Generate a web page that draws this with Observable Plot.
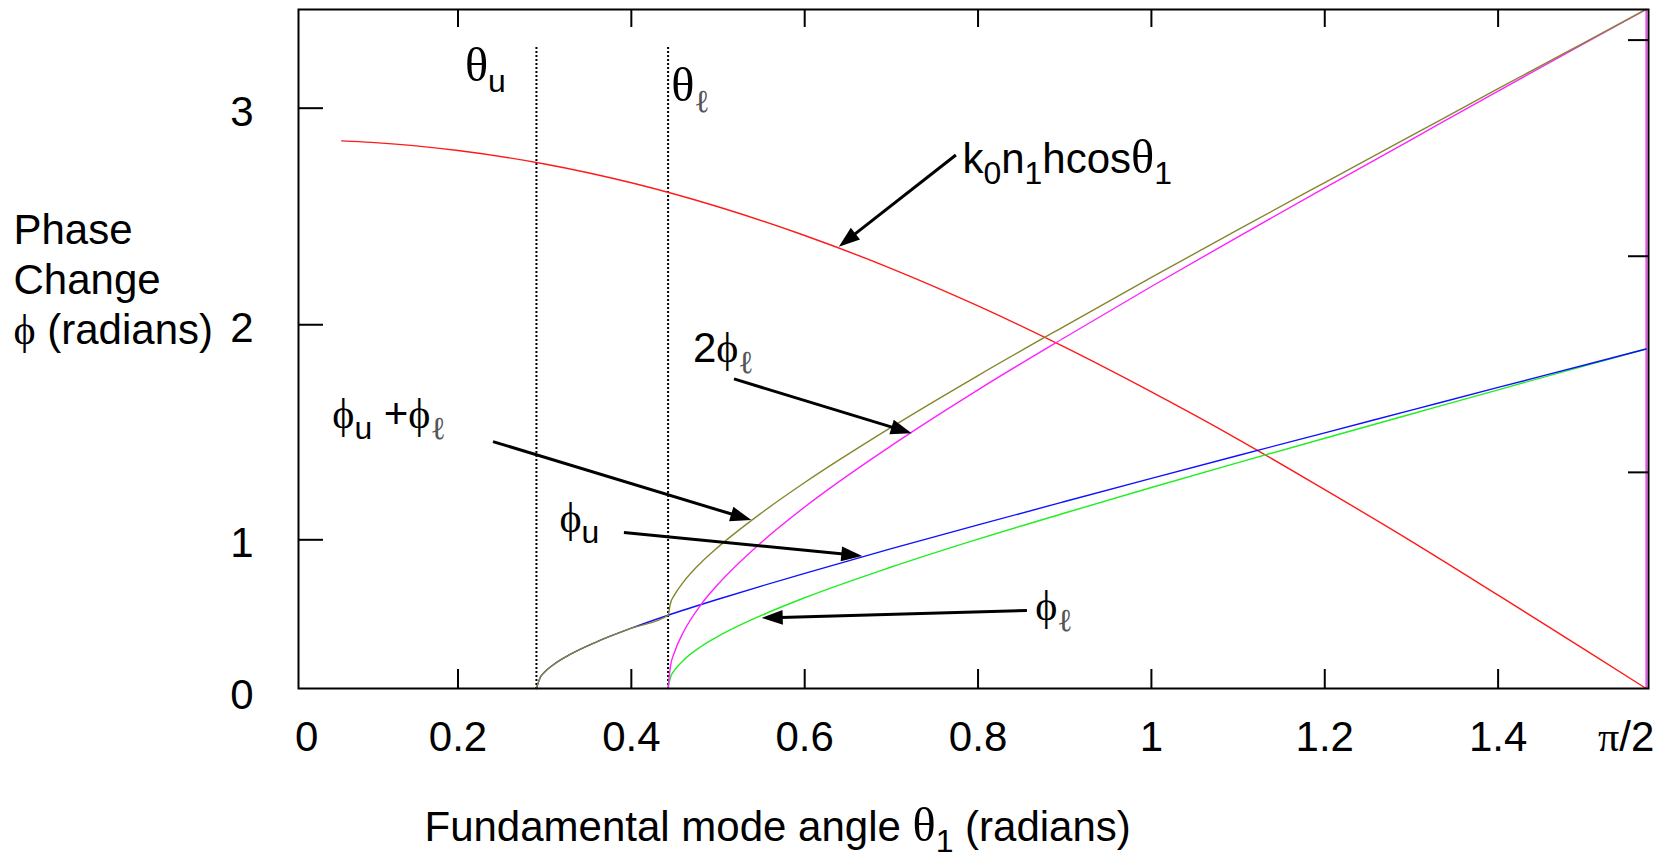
<!DOCTYPE html>
<html>
<head>
<meta charset="utf-8">
<script src="https://cdn.jsdelivr.net/npm/d3@7"></script>
<script src="https://cdn.jsdelivr.net/npm/@observablehq/plot@0.6"></script>
<style>
  html, body { margin: 0; padding: 0; background: #fff; overflow: hidden; }
  #chart svg { display: block; }
</style>
</head>
<body>
<div id="chart"></div>
<script>
// ---- Critical angles (radians) ----
const criticalAngles = [0.2905, 0.4424];          // θu, θℓ
const criticalLabels = ["θ_u", "θ_ℓ"];
const criticalLabelX = [0.208, 0.446];
const criticalLabelY = [2.813, 2.716];

// ---- k0 n1 h cosθ1 ----
const cosTheta = [0.066, 0.1, 0.2, 0.3, 0.4, 0.5, 0.6, 0.7, 0.8, 0.9, 1.0, 1.1, 1.2, 1.3, 1.4, 1.5, 1.5708];
const cosPhase = [2.534, 2.527, 2.489, 2.427, 2.340, 2.229, 2.096, 1.943, 1.770, 1.579, 1.372, 1.153, 0.920, 0.681, 0.432, 0.180, 0.000];

// ---- ϕℓ (lower interface) ----
const phiLTheta = [0.4424, 0.445, 0.45, 0.46, 0.48, 0.50, 0.55, 0.60, 0.70, 0.80, 0.90, 1.0, 1.1, 1.2, 1.3, 1.4, 1.5, 1.5708];
const phiLPhase = [0, 0.050, 0.085, 0.130, 0.193, 0.241, 0.338, 0.420, 0.562, 0.691, 0.812, 0.930, 1.045, 1.158, 1.270, 1.382, 1.493, 1.571];

// ---- ϕu (upper interface) ----
const phiUTheta = [0.2905, 0.295, 0.30, 0.31, 0.33, 0.36, 0.40, 0.4424, 0.50, 0.55, 0.60, 0.70, 0.80, 0.90, 1.0, 1.1, 1.2, 1.3, 1.4, 1.5, 1.5708];
const phiUPhase = [0, 0.052, 0.076, 0.110, 0.159, 0.216, 0.279, 0.339, 0.413, 0.474, 0.533, 0.647, 0.757, 0.865, 0.972, 1.078, 1.183, 1.288, 1.393, 1.497, 1.571];

// ---- 2ϕℓ ----
const twoPhiLTheta = [0.4424, 0.445, 0.45, 0.46, 0.48, 0.50, 0.55, 0.60, 0.70, 0.80, 0.90, 1.0, 1.1, 1.2, 1.3, 1.4, 1.5, 1.5708];
const twoPhiLPhase = [0, 0.100, 0.170, 0.260, 0.386, 0.482, 0.676, 0.840, 1.124, 1.382, 1.624, 1.860, 2.090, 2.316, 2.540, 2.764, 2.986, 3.142];

// ---- ϕu + ϕℓ ----
const sumTheta = [0.2905, 0.295, 0.30, 0.31, 0.33, 0.36, 0.40, 0.4424, 0.445, 0.45, 0.46, 0.48, 0.50, 0.55, 0.60, 0.70, 0.80, 0.90, 1.0, 1.1, 1.2, 1.3, 1.4, 1.5, 1.5708];
const sumPhase = [0, 0.052, 0.076, 0.110, 0.159, 0.216, 0.279, 0.339, 0.392, 0.434, 0.492, 0.581, 0.654, 0.812, 0.953, 1.209, 1.448, 1.677, 1.902, 2.123, 2.341, 2.558, 2.775, 2.990, 3.142];

const seriesNames  = ["k0n1hcosθ1", "ϕℓ", "ϕu", "2ϕℓ", "ϕu+ϕℓ"];
const seriesColors = ["#ff1a1a", "#22ee22", "#1010ff", "#ff22ff", "#86862e"];
const seriesTheta  = [cosTheta, phiLTheta, phiUTheta, twoPhiLTheta, sumTheta];
const seriesPhase  = [cosPhase, phiLPhase, phiUPhase, twoPhiLPhase, sumPhase];

// ---- Axes ----
const xTickValues = [0.2, 0.4, 0.6, 0.8, 1.0, 1.2, 1.4];
const xTickLabels = ["0.2", "0.4", "0.6", "0.8", "1", "1.2", "1.4"];
const rightTickValues = [1, 2, 3];
// left-hand ticks sit a little above the right-hand ones
const leftTickValues = [0.688, 1.683, 2.685];
const leftTickLabels = ["1", "2", "3"];
const xTitle = "Fundamental mode angle θ_1 (radians)";
const yTitle = "Phase\nChange\nϕ (radians)";

// ---- Annotations (label anchor = left end of baseline) ----
const annotationLabels = ["k_0n_1hcosθ_1", "2ϕ_ℓ", "ϕ_u +ϕ_ℓ", "ϕ_u", "ϕ_ℓ"];
const annotationX = [0.782, 0.471, 0.055, 0.317, 0.866];
const annotationY = [2.383, 1.510, 1.203, 0.722, 0.319];
const arrowFromX = [0.775, 0.519, 0.241, 0.392, 0.857];
const arrowFromY = [2.466, 1.430, 1.140, 0.720, 0.359];
const arrowToX   = [0.640, 0.724, 0.539, 0.667, 0.551];
const arrowToY   = [2.042, 1.179, 0.777, 0.611, 0.324];

// ---- Layout ----
const W = 1664, H = 861;
const margin = {left: 298, right: 16, top: 9, bottom: 173};
const plotW = W - margin.left - margin.right;
const plotH = H - margin.top - margin.bottom;
const SANS = "'Liberation Sans', Arial, Helvetica, sans-serif";
const SERIF = "'Liberation Serif', 'DejaVu Serif', 'Times New Roman', serif";
const FS = 42;

const rows = seriesNames.flatMap((name, s) =>
  seriesTheta[s].map((t, i) => ({name, theta: t, phase: seriesPhase[s][i]})));
// the 2ϕℓ trace falls straight back to zero at its last angle
const twoPhiLEnd = [{theta: twoPhiLTheta[twoPhiLTheta.length - 1], phase: twoPhiLPhase[twoPhiLPhase.length - 1]}];
const annotations = annotationLabels.map((label, i) => ({label, x: annotationX[i], y: annotationY[i]}));
const critical = criticalLabels.map((label, i) => ({label, x: criticalLabelX[i], y: criticalLabelY[i]}));
const arrows = arrowFromX.map((x1, i) => ({x1, y1: arrowFromY[i], x2: arrowToX[i], y2: arrowToY[i]}));
const xTicks = xTickValues.map((v, i) => ({v, label: xTickLabels[i]}));
const leftTicks = leftTickValues.map((v, i) => ({v, label: leftTickLabels[i]}));

// Filled-head arrows positioned through the plot scales
function arrowMark(data, {length = 21, halfWidth = 7.5, strokeWidth = 3} = {}) {
  return (index, scales) => {
    const g = d3.create("svg:g").attr("aria-label", "arrow");
    for (const a of data) {
      const x1 = scales.x(a.x1), y1 = scales.y(a.y1);
      const x2 = scales.x(a.x2), y2 = scales.y(a.y2);
      const ang = Math.atan2(y2 - y1, x2 - x1);
      const c = Math.cos(ang), s = Math.sin(ang);
      const bx = x2 - length * c, by = y2 - length * s;
      g.append("line")
        .attr("x1", x1).attr("y1", y1).attr("x2", bx + 2 * c).attr("y2", by + 2 * s)
        .attr("stroke", "black").attr("stroke-width", strokeWidth);
      g.append("path")
        .attr("d", `M${x2},${y2}L${bx - halfWidth * s},${by + halfWidth * c}L${bx + halfWidth * s},${by - halfWidth * c}Z`)
        .attr("fill", "black");
    }
    return g.node();
  };
}

const textStyle = {fontFamily: SANS, fontSize: FS, fill: "black"};

const chart = Plot.plot({
  width: W,
  height: H,
  marginLeft: margin.left,
  marginRight: margin.right,
  marginTop: margin.top,
  marginBottom: margin.bottom,
  x: {domain: [0.016, 1.5735], axis: null},
  y: {domain: [0, Math.PI], axis: null},
  color: {domain: seriesNames, range: seriesColors},
  marks: [
    // dotted cut-off lines
    Plot.ruleX(criticalAngles, {x: d => d, stroke: "black", strokeWidth: 2, strokeDasharray: "2,2", insetTop: 38}),
    // curves
    Plot.ruleX(twoPhiLEnd, {x: "theta", y1: 0, y2: "phase", stroke: seriesColors[3], strokeWidth: 1.4}),
    Plot.line(rows, {x: "theta", y: "phase", z: "name", stroke: "name", strokeWidth: 1.4, curve: "monotone-x"}),
    // box and inward ticks
    Plot.frame({stroke: "black", strokeWidth: 2}),
    Plot.tickX(xTickValues, {x: d => d, insetTop: plotH - 19, stroke: "black", strokeWidth: 2}),
    Plot.tickX(xTickValues, {x: d => d, insetBottom: plotH - 18, stroke: "black", strokeWidth: 2}),
    Plot.tickY(leftTickValues, {y: d => d, insetRight: plotW - 25, stroke: "black", strokeWidth: 2}),
    Plot.tickY(rightTickValues, {y: d => d, insetLeft: plotW - 20, stroke: "black", strokeWidth: 2}),
    // tick labels
    Plot.text(xTicks, {x: "v", text: "label", frameAnchor: "bottom", lineAnchor: "bottom", dy: 62, ...textStyle}),
    Plot.text(["0"], {x: 0, text: d => d, frameAnchor: "bottom", lineAnchor: "bottom", dy: 62, dx: 22, ...textStyle}),
    Plot.text(["π/2"], {x: Math.PI / 2, text: d => d, frameAnchor: "bottom", lineAnchor: "bottom", dy: 62, dx: -20, ...textStyle}),
    Plot.text(leftTicks, {y: "v", text: "label", frameAnchor: "left", textAnchor: "end", lineAnchor: "middle", dx: -45, dy: 4, ...textStyle}),
    Plot.text(["0"], {y: 0, text: d => d, frameAnchor: "left", textAnchor: "end", lineAnchor: "middle", dx: -45, dy: 7, ...textStyle}),
    // axis titles
    Plot.text([xTitle], {text: d => d, frameAnchor: "bottom-left", textAnchor: "start", lineAnchor: "bottom", dx: 126, dy: 152, ...textStyle}),
    Plot.text([yTitle], {text: d => d, frameAnchor: "top-left", textAnchor: "start", lineAnchor: "bottom", lineHeight: 1.18, dx: -285, dy: 334, ...textStyle}),
    // annotations
    Plot.text(critical, {x: "x", y: "y", text: "label", textAnchor: "start", lineAnchor: "bottom", ...textStyle}),
    Plot.text(annotations, {x: "x", y: "y", text: "label", textAnchor: "start", lineAnchor: "bottom", ...textStyle}),
    arrowMark(arrows)
  ]
});

// Rich text: Greek letters in a serif face, "_x" as a subscript
const SVGNS = "http://www.w3.org/2000/svg";
const greekRe = /[θϕπℓ]/;
const SUB_SHIFT = 11;
function richText(el) {
  const nodes = el.querySelector("tspan") ? [...el.querySelectorAll("tspan")] : [el];
  for (const node of nodes) {
    const s = node.textContent;
    if (!/[θϕπℓ_]/.test(s)) continue;
    const runs = [];
    for (let i = 0; i < s.length; i++) {
      let sub = false;
      if (s[i] === "_" && i + 1 < s.length) { sub = true; i++; }
      const ch = s[i];
      const serif = greekRe.test(ch);
      const last = runs[runs.length - 1];
      if (last && !sub && !last.sub && last.serif === serif) last.text += ch;
      else runs.push({text: ch, sub, serif});
    }
    node.textContent = "";
    let shift = 0;
    for (const r of runs) {
      const t = document.createElementNS(SVGNS, "tspan");
      const target = r.sub ? SUB_SHIFT : 0;
      if (target !== shift) { t.setAttribute("dy", target - shift); shift = target; }
      let size = r.sub ? 0.76 : 1;
      if (r.serif) {
        t.setAttribute("font-family", SERIF);
        if (r.text.includes("θ")) size *= 1.15;
      }
      if (r.text === "ℓ") t.setAttribute("fill", "#555");
      if (size !== 1) t.setAttribute("font-size", `${size}em`);
      t.textContent = r.text;
      node.appendChild(t);
    }
  }
}
chart.querySelectorAll("text").forEach(richText);

document.getElementById("chart").appendChild(chart);
</script>
</body>
</html>
